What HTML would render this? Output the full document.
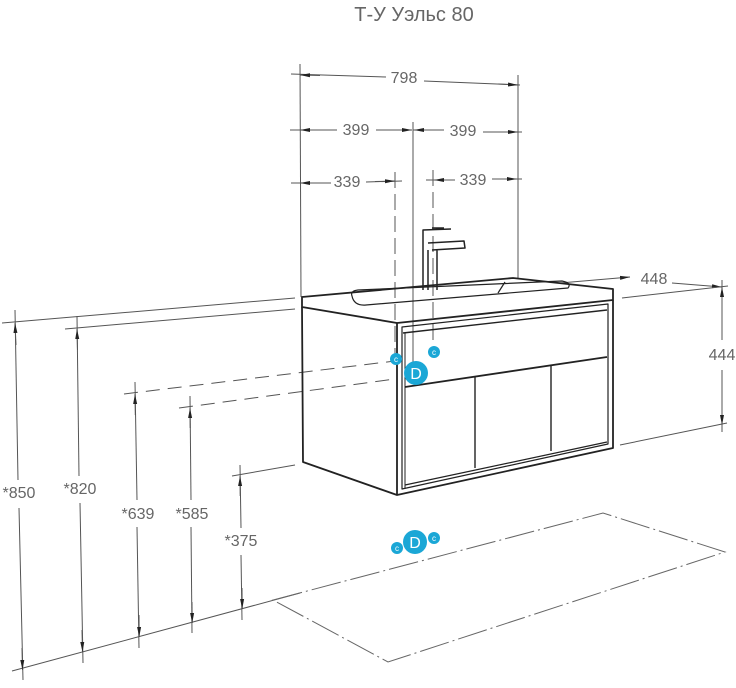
<!DOCTYPE html>
<html><head><meta charset="utf-8"><style>
html,body{margin:0;padding:0;background:#fff;}
svg{display:block;}
text{font-family:"Liberation Sans","DejaVu Sans",sans-serif;fill:#666;}
</style></head><body>
<svg width="736" height="688" viewBox="0 0 736 688" xmlns="http://www.w3.org/2000/svg">
<defs>
<marker id="a" viewBox="0 0 10 6" refX="10" refY="3" markerWidth="10" markerHeight="6" orient="auto-start-reverse" markerUnits="userSpaceOnUse"><path d="M0,1 L10,3 L0,5 z" fill="#222"/></marker>
</defs>
<text x="414" y="21" font-size="20" text-anchor="middle">Т-У Уэльс 80</text>

<g stroke="#555" stroke-width="1" fill="none">
<line x1="300" y1="64" x2="301" y2="297"/>
<line x1="518" y1="75" x2="518" y2="278"/>
<line x1="413" y1="122" x2="413" y2="372"/>
<line x1="395" y1="172" x2="395" y2="355" stroke-dasharray="16,6"/>
<line x1="433" y1="170" x2="433" y2="345" stroke-dasharray="16,6"/>
<line x1="291" y1="74" x2="386" y2="77"/>
<line x1="424" y1="81" x2="520" y2="85"/>
<line x1="300" y1="75" x2="320" y2="75.5" marker-start="url(#a)"/>
<line x1="498" y1="84" x2="518" y2="85" marker-end="url(#a)"/>
<line x1="290" y1="130" x2="337" y2="130"/>
<line x1="376" y1="130" x2="412" y2="130"/>
<line x1="413" y1="130" x2="444" y2="130"/>
<line x1="483" y1="132" x2="522" y2="132"/>
<line x1="300" y1="130" x2="320" y2="130" marker-start="url(#a)"/>
<line x1="392" y1="130" x2="412" y2="130" marker-end="url(#a)"/>
<line x1="414" y1="130" x2="434" y2="130" marker-start="url(#a)"/>
<line x1="498" y1="132" x2="518" y2="132" marker-end="url(#a)"/>
<line x1="291" y1="183" x2="331" y2="183"/>
<line x1="366" y1="182" x2="402" y2="181"/>
<line x1="426" y1="180" x2="455" y2="180"/>
<line x1="492" y1="179" x2="522" y2="179"/>
<line x1="300" y1="183" x2="320" y2="183" marker-start="url(#a)"/>
<line x1="375" y1="181.5" x2="395" y2="181" marker-end="url(#a)"/>
<line x1="434" y1="180" x2="454" y2="180" marker-start="url(#a)"/>
<line x1="497" y1="179" x2="517" y2="179" marker-end="url(#a)"/>

<line x1="560" y1="283" x2="630" y2="277" marker-end="url(#a)"/>
<line x1="672" y1="283" x2="722" y2="287" marker-end="url(#a)"/>
<line x1="622" y1="298" x2="728" y2="286"/>
<line x1="722" y1="280" x2="722" y2="340"/>
<line x1="722" y1="287" x2="722" y2="310" marker-start="url(#a)"/>
<line x1="722" y1="370" x2="722" y2="432"/>
<line x1="722" y1="405" x2="722" y2="425" marker-end="url(#a)"/>
<line x1="620" y1="445" x2="727" y2="423"/>

<line x1="2" y1="323" x2="295" y2="298"/>
<line x1="65" y1="329" x2="295" y2="309"/>
<line x1="124" y1="394" x2="395" y2="361" stroke-dasharray="14,8"/>
<line x1="179" y1="408" x2="395" y2="379" stroke-dasharray="14,8"/>
<line x1="232" y1="476" x2="295" y2="465"/>
<line x1="12" y1="671" x2="300" y2="593"/>
<g stroke="#666" stroke-dasharray="30,4,2,4">
<path d="M273,600 L603,513 L725,552 L388,662 Z"/>
</g>

<line x1="15" y1="310" x2="18" y2="480"/>
<line x1="19" y1="508" x2="23" y2="680"/>
<line x1="15" y1="323" x2="16" y2="345" marker-start="url(#a)"/>
<line x1="22" y1="648" x2="22.5" y2="670" marker-end="url(#a)"/>
<line x1="77" y1="316" x2="79" y2="476"/>
<line x1="80" y1="503" x2="83" y2="663"/>
<line x1="77" y1="329" x2="77.5" y2="350" marker-start="url(#a)"/>
<line x1="82" y1="630" x2="82.5" y2="652" marker-end="url(#a)"/>
<line x1="135" y1="382" x2="137" y2="500"/>
<line x1="137" y1="527" x2="139" y2="648"/>
<line x1="135" y1="394" x2="135.3" y2="415" marker-start="url(#a)"/>
<line x1="139" y1="615" x2="139.2" y2="637" marker-end="url(#a)"/>
<line x1="190" y1="396" x2="191" y2="500"/>
<line x1="191" y1="527" x2="192" y2="633"/>
<line x1="190" y1="408" x2="190.2" y2="428" marker-start="url(#a)"/>
<line x1="192" y1="602" x2="192.2" y2="623" marker-end="url(#a)"/>
<line x1="240" y1="465" x2="241" y2="528"/>
<line x1="241" y1="555" x2="242" y2="620"/>
<line x1="240" y1="476" x2="240.2" y2="496" marker-start="url(#a)"/>
<line x1="242" y1="588" x2="242.2" y2="609" marker-end="url(#a)"/>
</g>

<g stroke="#222" stroke-width="1.8" fill="none" stroke-linejoin="round">
<path d="M302,297 L513,278 L613,289 L613,300 L397,323 L302,307 Z"/>
<path d="M302,307 L303,462 L397,495 L613,448 L613,300"/>
<path d="M397,323 L397,495"/>
<path d="M352,296 Q350,291 358,290 L562,281 Q572,283 568,288 L366,305 Q354,306 352,296 Z" stroke-width="1.2"/>
<path d="M505,282 L498,293" stroke-width="1.2"/>
<path d="M402,327 L402,489 L608,444 L608,304 Z" stroke-width="1.2"/>
<path d="M403,333 L607,310" stroke-width="1.4"/>
<path d="M405,387 L607,357"/>
<path d="M405,333 L405,489" stroke-width="1"/>
<path d="M475,377 L475,468" stroke-width="1.4"/>
<path d="M551,366 L551,451" stroke-width="1.4"/>
<path d="M405,485 L607,442" stroke-width="1.2"/>
<path d="M423,290 L423,230 L451,229 M432,228 L444,228 M428,243 L464,241 L465,248 L432,250 M428,250 L428,290 M437,250 L437,290" stroke-width="1.5"/>
</g>

<g fill="#1ba7d6">
<circle cx="396" cy="359" r="6"/>
<circle cx="434" cy="352" r="6"/>
<circle cx="416" cy="373" r="12"/>
<circle cx="397" cy="548" r="6"/>
<circle cx="434" cy="538" r="6"/>
<circle cx="415" cy="542" r="12"/>
</g>
<g text-anchor="middle">
<text x="396" y="362" font-size="8" style="fill:#fff">c</text>
<text x="434" y="355" font-size="8" style="fill:#fff">c</text>
<text x="416" y="379" font-size="16" style="fill:#fff">D</text>
<text x="397" y="551" font-size="8" style="fill:#fff">c</text>
<text x="434" y="541" font-size="8" style="fill:#fff">c</text>
<text x="415" y="548" font-size="16" style="fill:#fff">D</text>
</g>

<g font-size="16" text-anchor="middle">
<text x="404" y="83">798</text>
<text x="356" y="135">399</text>
<text x="463" y="136">399</text>
<text x="347" y="187">339</text>
<text x="473" y="185">339</text>
<text x="654" y="284">448</text>
<text x="722" y="360">444</text>
<text x="19" y="498">*850</text>
<text x="80" y="494">*820</text>
<text x="138" y="519">*639</text>
<text x="192" y="519">*585</text>
<text x="241" y="546">*375</text>
</g>
</svg>
</body></html>
